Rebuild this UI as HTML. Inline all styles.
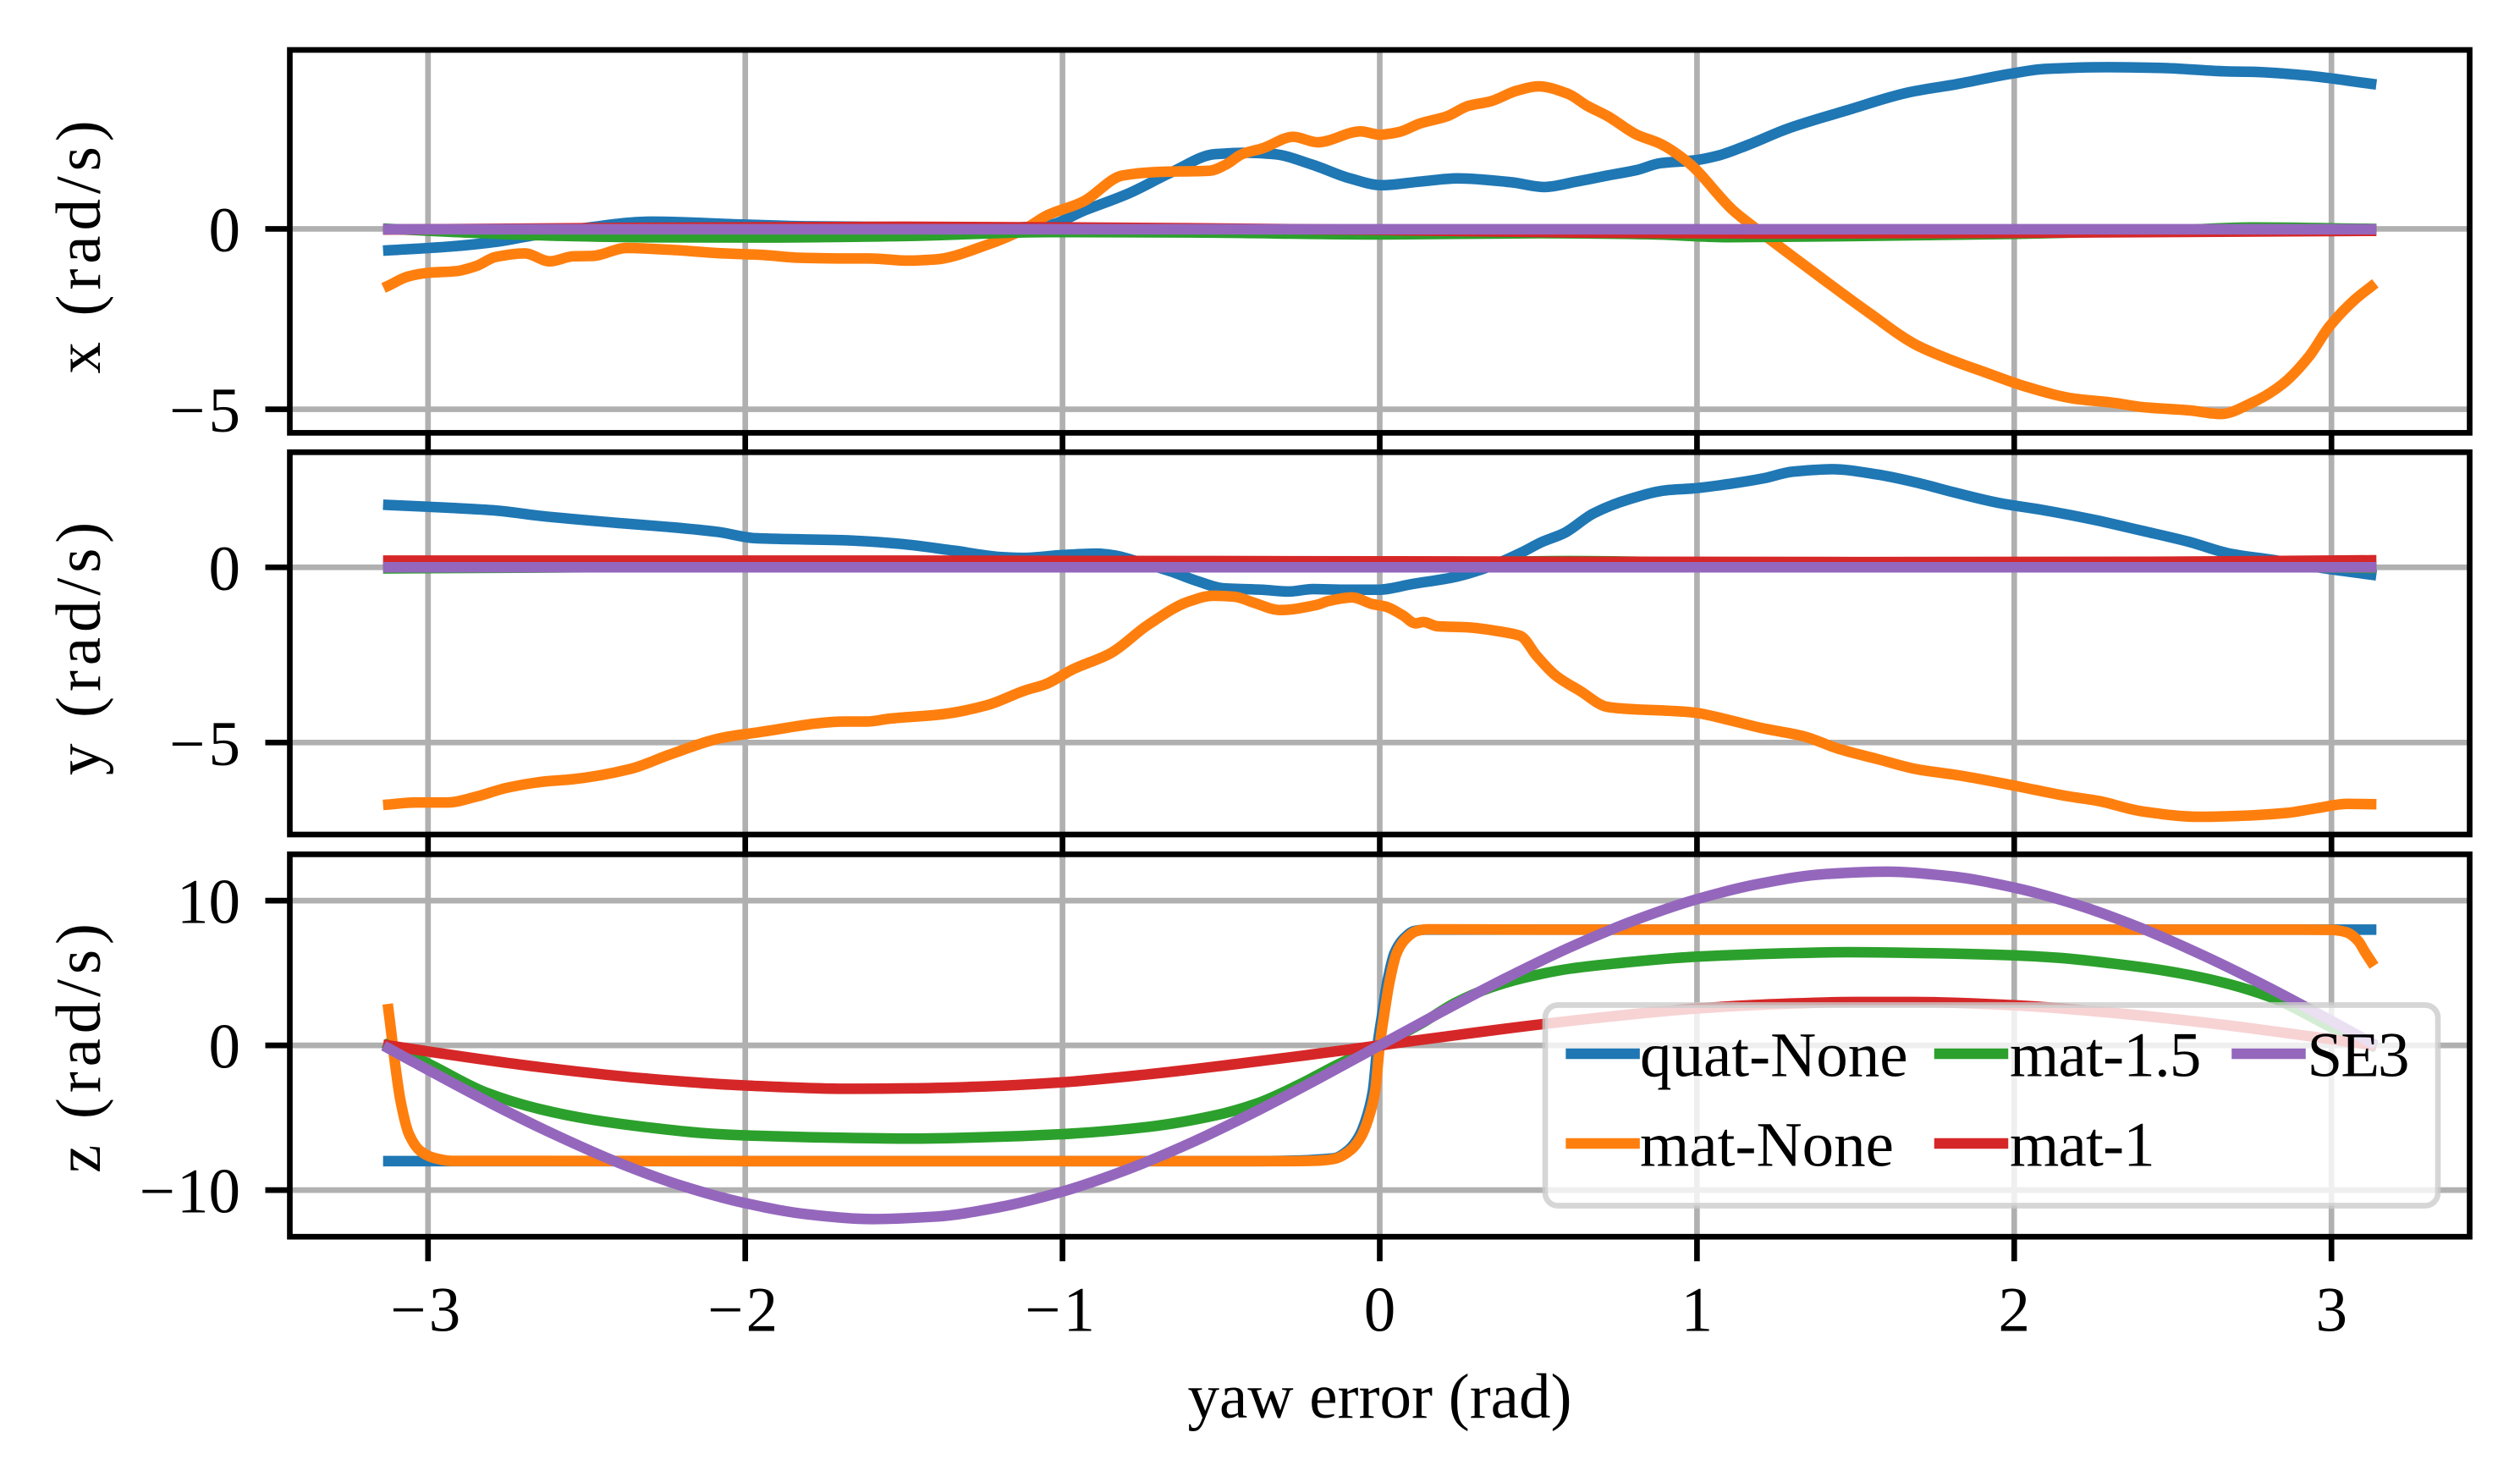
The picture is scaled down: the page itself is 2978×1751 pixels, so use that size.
<!DOCTYPE html>
<html lang="en">
<head>
<meta charset="utf-8">
<title>Angular velocity versus yaw error</title>
<style>
  html, body { margin: 0; padding: 0; background: #ffffff; }
  svg { display: block; font-family: "Liberation Serif", "Times New Roman", serif; }
  text { fill: #000000; font-size: 75px; }
</style>
</head>
<body>
<svg id="chart" xmlns="http://www.w3.org/2000/svg" width="2978" height="1751" viewBox="0 0 2978 1751">
  <rect x="0" y="0" width="2978" height="1751" fill="#ffffff"/>
  <g id="panels"></g>
  <g id="legend">
    <rect x="1826" y="1187.5" width="1055" height="237" rx="15" ry="15" fill="#ffffff" fill-opacity="0.8" stroke="#cccccc" stroke-opacity="0.8" stroke-width="6.67"/>
    <line x1="1856.6" x2="1931.6" y1="1245" y2="1245" stroke="#1f77b4" stroke-width="12.5" stroke-linecap="square"/>
    <text x="1938" y="1271.5">quat-None</text>
    <line x1="1856.6" x2="1931.6" y1="1351" y2="1351" stroke="#ff7f0e" stroke-width="12.5" stroke-linecap="square"/>
    <text x="1938" y="1377.5">mat-None</text>
    <line x1="2292" x2="2367" y1="1245" y2="1245" stroke="#2ca02c" stroke-width="12.5" stroke-linecap="square"/>
    <text x="2375" y="1271.5" letter-spacing="-0.8">mat-1.5</text>
    <line x1="2292" x2="2367" y1="1351" y2="1351" stroke="#d62728" stroke-width="12.5" stroke-linecap="square"/>
    <text x="2375" y="1377.5" letter-spacing="-0.8">mat-1</text>
    <line x1="2643.5" x2="2718.5" y1="1245" y2="1245" stroke="#9467bd" stroke-width="12.5" stroke-linecap="square"/>
    <text x="2726.5" y="1271.5" letter-spacing="-2">SE3</text>
  </g>
</svg>
<script>
/* ---------- shared ticks ---------- */
const xTicks = [-3, -2, -1, 0, 1, 2, 3];
const xTickLabels = ['\u22123', '\u22122', '\u22121', '0', '1', '2', '3'];
const xAxisTitle = 'yaw error (rad)';

const panel1Ticks = [0, -5];
const panel1TickLabels = ['0', '\u22125'];
const panel2Ticks = [0, -5];
const panel2TickLabels = ['0', '\u22125'];
const panel3Ticks = [10, 0, -10];
const panel3TickLabels = ['10', '0', '\u221210'];

/* ---------- panel x: roll-rate ---------- */
const xQuatNoneAt = [-3.125,-2.925,-2.787,-2.68,-2.51,-2.297,-2.007,-1.8,-1.5,-1.2,-1.047,-0.928,-0.792,-0.656,-0.52,-0.417,-0.332,-0.213,-0.094,0.006,0.127,0.246,0.416,0.518,0.62,0.719,0.81,0.884,0.994,1.067,1.159,1.287,1.471,1.672,1.819,1.984,2.094,2.296,2.461,2.681,2.755,2.92,3.125];
const xQuatNoneVal = [-0.595,-0.486,-0.36,-0.2,0.02,0.2,0.12,0.07,0.05,0.02,0.1,0.52,0.98,1.57,2.07,2.11,2.07,1.78,1.40,1.21,1.31,1.40,1.29,1.16,1.31,1.48,1.63,1.82,1.90,2.03,2.32,2.78,3.28,3.79,4.01,4.29,4.43,4.48,4.46,4.36,4.35,4.25,4.02];
const xMatNoneAt = [-3.125,-3.063,-3.002,-2.91,-2.848,-2.787,-2.695,-2.616,-2.542,-2.482,-2.374,-2.236,-2.068,-1.948,-1.83,-1.693,-1.608,-1.489,-1.404,-1.234,-1.115,-1.047,-0.936,-0.81,-0.69,-0.537,-0.485,-0.434,-0.367,-0.273,-0.196,-0.06,0,0.059,0.127,0.212,0.28,0.348,0.433,0.50,0.594,0.654,0.719,0.81,0.884,0.975,1.113,1.178,1.342,1.543,1.69,1.80,1.91,2.04,2.186,2.314,2.406,2.553,2.65,2.754,2.846,2.929,2.993,3.075,3.125];
const xMatNoneVal = [-1.575,-1.32,-1.22,-1.17,-1.03,-0.78,-0.68,-0.90,-0.76,-0.75,-0.53,-0.58,-0.68,-0.72,-0.80,-0.82,-0.82,-0.88,-0.85,-0.43,0.02,0.38,0.75,1.48,1.58,1.61,1.78,2.07,2.24,2.55,2.40,2.70,2.61,2.68,2.92,3.12,3.41,3.53,3.83,3.95,3.74,3.41,3.12,2.61,2.36,1.82,0.52,0.06,-1.03,-2.33,-3.21,-3.63,-3.98,-4.38,-4.70,-4.82,-4.94,-5.03,-5.13,-4.80,-4.30,-3.54,-2.71,-1.95,-1.60];
const xMat15At = [-3.125,-2.93,-2.6,-2.3,-1.95,-1.5,-1.05,-0.6,0,0.5,0.85,1.1,1.5,2.0,2.5,2.75,3.125];
const xMat15Val = [0,-0.08,-0.19,-0.235,-0.24,-0.2,-0.09,-0.1,-0.155,-0.12,-0.15,-0.23,-0.2,-0.14,-0.04,0.04,0];
const xMat1At = [-3.125,-2.3,-1.5,-1,0,0.6,1.2,2,3.125];
const xMat1Val = [-0.02,0.03,0.06,0.04,-0.03,-0.1,-0.13,-0.11,-0.055];
const xSe3At = [-3.125,-1.5,0,1.5,3.125];
const xSe3Val = [-0.01,-0.01,-0.01,-0.01,-0.01];

/* ---------- panel y: pitch-rate ---------- */
const yQuatNoneAt = [-3.125,-2.937,-2.784,-2.648,-2.393,-2.24,-2.087,-1.967,-1.682,-1.512,-1.341,-1.188,-1.12,-1.0,-0.89,-0.83,-0.78,-0.661,-0.576,-0.492,-0.372,-0.287,-0.21,-0.117,-0.006,0.104,0.24,0.343,0.444,0.513,0.58,0.674,0.785,0.904,0.986,1.102,1.21,1.302,1.427,1.568,1.70,1.81,1.95,2.10,2.25,2.40,2.55,2.68,2.815,2.98,3.125];
const yQuatNoneVal = [1.78,1.70,1.62,1.47,1.26,1.15,1.01,0.83,0.77,0.67,0.475,0.29,0.27,0.35,0.39,0.33,0.21,-0.11,-0.39,-0.60,-0.64,-0.69,-0.62,-0.64,-0.64,-0.475,-0.27,0.01,0.41,0.73,0.97,1.54,1.94,2.2,2.25,2.38,2.54,2.73,2.80,2.65,2.40,2.14,1.84,1.62,1.36,1.05,0.73,0.39,0.21,-0.03,-0.21];
const yMatNoneAt = [-3.125,-3.04,-2.937,-2.85,-2.75,-2.63,-2.546,-2.36,-2.24,-2.07,-1.967,-1.682,-1.614,-1.546,-1.376,-1.24,-1.12,-1.052,-0.967,-0.848,-0.73,-0.60,-0.525,-0.457,-0.397,-0.313,-0.202,-0.16,-0.087,-0.023,0.019,0.071,0.113,0.138,0.18,0.274,0.385,0.444,0.495,0.555,0.632,0.716,0.751,0.986,1.102,1.20,1.335,1.45,1.568,1.692,1.834,2.0,2.167,2.267,2.40,2.583,2.716,2.858,2.95,3.05,3.125];
const yMatNoneVal = [-6.77,-6.71,-6.71,-6.55,-6.29,-6.11,-6.05,-5.75,-5.35,-4.86,-4.72,-4.40,-4.40,-4.32,-4.19,-3.94,-3.52,-3.33,-2.91,-2.45,-1.64,-0.97,-0.81,-0.84,-1.01,-1.22,-1.08,-0.96,-0.86,-1.05,-1.12,-1.36,-1.60,-1.56,-1.68,-1.71,-1.84,-1.96,-2.53,-3.09,-3.53,-3.98,-4.02,-4.14,-4.36,-4.58,-4.82,-5.19,-5.47,-5.76,-5.95,-6.23,-6.53,-6.67,-6.96,-7.12,-7.09,-7.01,-6.88,-6.75,-6.76];
const yMat15At = [-3.125,-2.5,-1,0,0.6,1.2,2.5,3.125];
const yMat15Val = [-0.03,0,0.05,0.1,0.18,0.1,0.05,-0.02];
const yMat1At = [-3.125,-1.5,0,1.5,2.5,3.125];
const yMat1Val = [0.19,0.19,0.17,0.15,0.16,0.2];
const ySe3At = [-3.125,-1.5,0,1.5,3.125];
const ySe3Val = [0,0,0,0,0];

/* ---------- panel z: yaw-rate ---------- */
const zQuatNoneAt = [-3.125,-0.4,-0.25,-0.17,-0.142,-0.097,-0.066,-0.044,-0.022,-0.007,0.007,0.024,0.046,0.073,0.109,0.145,0.5,3.125];
const zQuatNoneVal = [-8,-8,-7.95,-7.85,-7.79,-7.2,-6.32,-5.15,-3.2,0,2.06,4.4,6.35,7.32,7.9,8,8,8];
const zMatNoneAt = [-3.125,-3.118,-3.104,-3.087,-3.06,-3.024,-2.98,-2.926,-1.5,-0.3,-0.2,-0.16,-0.135,-0.09,-0.059,-0.037,-0.0147,0,0.0135,0.031,0.053,0.08,0.116,0.152,0.5,1.5,2.9,3.0,3.048,3.084,3.106,3.125];
const zMatNoneVal = [2.5,1.28,-1.25,-3.79,-6.13,-7.3,-7.78,-7.98,-8,-8,-7.97,-7.9,-7.79,-7.2,-6.32,-5.15,-3.2,0,2.06,4.4,6.35,7.32,7.9,8.02,8,8,8,7.98,7.81,7.22,6.44,5.8];
const zMat15At = [-3.125,-3,-2.818,-2.648,-2.478,-2.308,-2.138,-2,-1.682,-1.478,-1.273,-1,-0.73,-0.525,-0.389,-0.253,-0.13,0,0.13,0.239,0.35,0.452,0.6,0.73,1,1.273,1.478,1.682,2,2.138,2.308,2.478,2.648,2.818,3,3.125];
const zMat15Val = [0,-1.25,-3.25,-4.4,-5.15,-5.66,-6.05,-6.22,-6.39,-6.44,-6.36,-6.13,-5.63,-4.87,-4.03,-2.7,-1.3,0,1.5,2.95,4.0,4.65,5.3,5.63,6.13,6.36,6.44,6.39,6.22,6.05,5.66,5.15,4.4,3.25,1.25,0];
const zMat1At = [-3.125,-3,-2.648,-2.308,-2,-1.682,-1.478,-1.273,-1,-0.73,-0.457,-0.238,0,0.238,0.457,0.73,1,1.273,1.5,1.682,2,2.308,2.648,3,3.125];
const zMat1Val = [0,-0.42,-1.5,-2.3,-2.77,-3.0,-2.97,-2.86,-2.55,-2.0,-1.3,-0.7,0,0.7,1.32,2.0,2.55,2.87,3.0,3.0,2.77,2.25,1.45,0.42,0.03];
const zSe3At = [-3.125,-3,-2.8,-2.6,-2.4,-2.2,-2,-1.8,-1.6,-1.4,-1.2,-1,-0.8,-0.6,-0.4,-0.2,0,0.2,0.4,0.6,0.8,1,1.2,1.4,1.6,1.8,2,2.2,2.4,2.6,2.8,3,3.125];
const zSe3Val = [-0.2,-1.69,-4.02,-6.17,-8.1,-9.7,-10.9,-11.68,-12.0,-11.83,-11.18,-10.1,-8.61,-6.78,-4.67,-2.38,0,2.38,4.67,6.78,8.61,10.1,11.18,11.83,12.0,11.68,10.9,9.7,8.1,6.17,4.02,1.69,0.2];

/* ---------- rendering ---------- */
const NS = 'http://www.w3.org/2000/svg';
const panelsGroup = document.getElementById('panels');
const FRAME_LEFT = 342.5, FRAME_RIGHT = 2918.5;
const X_MIN = -3.4356, X_MAX = 3.4356;
const GRID_COLOR = '#b0b0b0', THIN = 6.67, LINE = 12.5, TICK = 29;

function xScale(v) {
  return FRAME_LEFT + (v - X_MIN) / (X_MAX - X_MIN) * (FRAME_RIGHT - FRAME_LEFT);
}
function makeYScale(top, bottom, yMin, yMax) {
  return function (v) { return bottom - (v - yMin) / (yMax - yMin) * (bottom - top); };
}
function mk(tag, attrs, parent, content) {
  const el = document.createElementNS(NS, tag);
  for (const k in attrs) el.setAttribute(k, attrs[k]);
  if (content !== undefined) el.textContent = content;
  parent.appendChild(el);
  return el;
}

/* Monotone cubic path through the scaled data points (no overshoot). */
function curvePath(px, py) {
  const n = px.length;
  if (n < 2) return '';
  const d = [], m = [];
  for (let i = 0; i < n - 1; i++) d.push((py[i + 1] - py[i]) / (px[i + 1] - px[i]));
  m.push(d[0]);
  for (let i = 1; i < n - 1; i++) {
    if (d[i - 1] * d[i] <= 0) { m.push(0); continue; }
    const h0 = px[i] - px[i - 1], h1 = px[i + 1] - px[i];
    const w0 = 2 * h1 + h0, w1 = h1 + 2 * h0;
    m.push((w0 + w1) / (w0 / d[i - 1] + w1 / d[i]));
  }
  m.push(d[n - 2]);
  let s = 'M' + px[0].toFixed(2) + ' ' + py[0].toFixed(2);
  for (let i = 0; i < n - 1; i++) {
    const h = (px[i + 1] - px[i]) / 3;
    s += 'C' + (px[i] + h).toFixed(2) + ' ' + (py[i] + m[i] * h).toFixed(2) + ' ' +
         (px[i + 1] - h).toFixed(2) + ' ' + (py[i + 1] - m[i + 1] * h).toFixed(2) + ' ' +
         px[i + 1].toFixed(2) + ' ' + py[i + 1].toFixed(2);
  }
  return s;
}

function drawPanel(cfg) {
  const yScale = makeYScale(cfg.top, cfg.bottom, cfg.yMin, cfg.yMax);
  const g = mk('g', {}, panelsGroup);
  
  

  xTicks.forEach(function (t) {
    const gl = mk('line', { x1: xScale(t), x2: xScale(t), y1: cfg.top, y2: cfg.bottom, stroke: GRID_COLOR, 'stroke-width': THIN }, g);
    
    
  });
  cfg.yTicks.forEach(function (t) {
    const gl = mk('line', { x1: FRAME_LEFT, x2: FRAME_RIGHT, y1: yScale(t), y2: yScale(t), stroke: GRID_COLOR, 'stroke-width': THIN }, g);
    
    
  });

  cfg.series.forEach(function (s) {
    const d = curvePath(s.at.map(xScale), s.val.map(yScale));
    const pl = mk('path', { d: d, fill: 'none', stroke: s.color, 'stroke-width': LINE, 'stroke-linecap': 'square', 'stroke-linejoin': 'round' }, g);
    
    
  });

  const frame = mk('rect', { x: FRAME_LEFT, y: cfg.top, width: FRAME_RIGHT - FRAME_LEFT, height: cfg.bottom - cfg.top, fill: 'none', stroke: '#000000', 'stroke-width': THIN }, g);
  
  

  xTicks.forEach(function (t) {
    const tk = mk('line', { x1: xScale(t), x2: xScale(t), y1: cfg.bottom, y2: cfg.bottom + TICK, stroke: '#000000', 'stroke-width': THIN }, g);
    
    
  });
  cfg.yTicks.forEach(function (t, i) {
    const tk = mk('line', { x1: FRAME_LEFT - TICK, x2: FRAME_LEFT, y1: yScale(t), y2: yScale(t), stroke: '#000000', 'stroke-width': THIN }, g);
    
    
    const lb = mk('text', { x: 284, y: yScale(t) + 26.5, 'text-anchor': 'end', dx: t < 0 ? '0 ' + (t > -10 ? 4 : 2) : '0' }, g, cfg.yTickLabels[i]);
    
    
  });

  const title = mk('text', { transform: 'translate(118,' + cfg.titleStart + ') rotate(-90)', x: 0, y: 0, 'letter-spacing': cfg.titleSpacing }, g, cfg.title);
  
  

  if (cfg.showXLabels) {
    xTicks.forEach(function (t, i) {
      const lb = mk('text', { x: xScale(t) - (t < 0 ? 3 : 0), y: 1572.5, 'text-anchor': 'middle', dx: t < 0 ? '0 3' : '0' }, g, xTickLabels[i]);
      
      
    });
    const xt = mk('text', { x: xScale(0), y: 1675, 'text-anchor': 'middle' }, g, xAxisTitle);
    
    
  }
}

const BLUE = '#1f77b4', ORANGE = '#ff7f0e', GREEN = '#2ca02c', RED = '#d62728', PURPLE = '#9467bd';

drawPanel({
  key: 'x', title: 'x (rad/s)', titleStart: 441.5, titleSpacing: 5.9, top: 59, bottom: 511.4, yMin: -5.652, yMax: 4.958,
  yTicks: panel1Ticks, yTickLabels: panel1TickLabels, showXLabels: false,
  series: [
    { name: 'quat-none', color: BLUE, at: xQuatNoneAt, val: xQuatNoneVal },
    { name: 'mat-none', color: ORANGE, at: xMatNoneAt, val: xMatNoneVal },
    { name: 'mat-1-5', color: GREEN, at: xMat15At, val: xMat15Val },
    { name: 'mat-1', color: RED, at: xMat1At, val: xMat1Val },
    { name: 'se3', color: PURPLE, at: xSe3At, val: xSe3Val }
  ]
});
drawPanel({
  key: 'y', title: 'y (rad/s)', titleStart: 916, titleSpacing: 5.9, top: 534.3, bottom: 986, yMin: -7.626, yMax: 3.285,
  yTicks: panel2Ticks, yTickLabels: panel2TickLabels, showXLabels: false,
  series: [
    { name: 'quat-none', color: BLUE, at: yQuatNoneAt, val: yQuatNoneVal },
    { name: 'mat-none', color: ORANGE, at: yMatNoneAt, val: yMatNoneVal },
    { name: 'mat-1-5', color: GREEN, at: yMat15At, val: yMat15Val },
    { name: 'mat-1', color: RED, at: yMat1At, val: yMat1Val },
    { name: 'se3', color: PURPLE, at: ySe3At, val: ySe3Val }
  ]
});
drawPanel({
  key: 'z', title: 'z (rad/s)', titleStart: 1386, titleSpacing: 5.9, top: 1009.4, bottom: 1461.2, yMin: -13.22, yMax: 13.2,
  yTicks: panel3Ticks, yTickLabels: panel3TickLabels, showXLabels: true,
  series: [
    { name: 'quat-none', color: BLUE, at: zQuatNoneAt, val: zQuatNoneVal },
    { name: 'mat-none', color: ORANGE, at: zMatNoneAt, val: zMatNoneVal },
    { name: 'mat-1-5', color: GREEN, at: zMat15At, val: zMat15Val },
    { name: 'mat-1', color: RED, at: zMat1At, val: zMat1Val },
    { name: 'se3', color: PURPLE, at: zSe3At, val: zSe3Val }
  ]
});
</script>
</body>
</html>
